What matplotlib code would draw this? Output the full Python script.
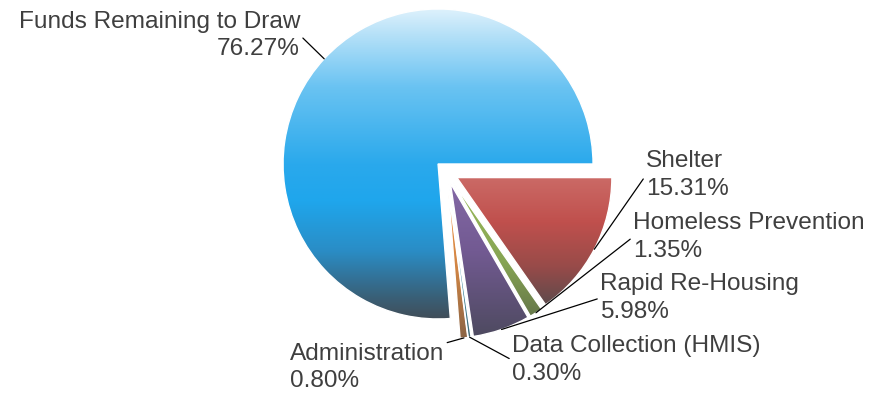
import numpy as np
import matplotlib.pyplot as plt
from matplotlib.colors import LinearSegmentedColormap, to_rgb

# === 1. Grant draw-down breakdown (percent of total award) ===
categories = ['Funds Remaining to Draw', 'Administration', 'Data Collection (HMIS)',
              'Rapid Re-Housing', 'Homeless Prevention', 'Shelter']
percentages = [76.27, 0.80, 0.30, 5.98, 1.35, 15.31]

# === 2. Colours: stops of each slice's vertical gradient (top -> bottom) ===
slice_gradients = [
    [(0.0, '#ddf1fc'), (0.08, '#b6e1f8'), (0.25, '#6ac3f2'), (0.5, '#2aa9ec'),
     (0.62, '#1fa6ec'), (0.78, '#2a8dc6'), (0.93, '#396078'), (1.0, '#414e59')],
    [(0.0, '#f79646'), (0.55, '#d08544'), (1.0, '#8a6444')],
    [(0.0, '#4bacc6'), (0.55, '#4596ac'), (1.0, '#3e6874')],
    [(0.0, '#8468a6'), (0.45, '#725a92'), (1.0, '#4e4a60')],
    [(0.0, '#9bbb59'), (0.6, '#86a453'), (1.0, '#66784a')],
    [(0.0, '#cb6a66'), (0.35, '#c0504d'), (0.7, '#984b49'), (1.0, '#5e4a4c')],
]
explode = [0, 0.075, 0.075, 0.075, 0.075, 0.075]
group_shift = (0.055, -0.053)   # the drawn-down slices are pulled out together

# label text anchors (data units, pie radius = 1)
label_xy = [(-0.89, 0.83), (-0.955, -1.316), (0.477, -1.265),
            (1.045, -0.865), (1.258, -0.471), (1.342, -0.071)]
label_ha = ['right', 'left', 'left', 'left', 'left', 'left']
label_relpos = [(1, 0.5), (1, 1), (0, 0.5), (0, 0.5), (0, 0.5), (0, 0.5)]

# === 3. Figure ===
fig = plt.figure(figsize=(8.84, 3.96), dpi=100)
ax = fig.add_axes([0, 0, 1, 1])

wedges, _ = ax.pie(percentages, startangle=0, counterclock=True, explode=explode,
                   radius=1, wedgeprops=dict(linewidth=1.0, edgecolor='white'))

for w in wedges[1:]:
    cx, cy = w.center
    w.set_center((cx + group_shift[0], cy + group_shift[1]))

# gradient fill clipped to each wedge
grad = np.linspace(0, 1, 256).reshape(-1, 1)
for w, stops in zip(wedges, slice_gradients):
    cmap = LinearSegmentedColormap.from_list('g', [(p, to_rgb(c)) for p, c in stops])
    ext = w.get_path().get_extents()
    im = ax.imshow(grad, cmap=cmap, extent=(ext.x0, ext.x1, ext.y0, ext.y1),
                   origin='upper', aspect='auto', interpolation='bilinear', zorder=0.5)
    im.set_clip_path(w)
    w.set_facecolor('none')
    w.set_zorder(1)

# === 4. Labels with leader lines ===
for w, name, pct, xy_t, ha, rel in zip(wedges, categories, percentages,
                                       label_xy, label_ha, label_relpos):
    theta = np.deg2rad((w.theta1 + w.theta2) / 2)
    cx, cy = w.center
    edge = (cx + w.r * np.cos(theta), cy + w.r * np.sin(theta))
    ax.annotate(f'{name}\n{pct:.2f}%', xy=edge, xytext=xy_t,
                ha=ha, va='center', multialignment=ha,
                fontsize=17.6, family='Liberation Sans', color='#3f3f3f',
                linespacing=1.3,
                arrowprops=dict(arrowstyle='-', color='black', lw=0.9,
                                shrinkA=0, shrinkB=0, relpos=rel))

ax.set_xlim(-2.826, 2.877)
ax.set_ylim(-1.497, 1.058)
ax.set_aspect('equal')
ax.axis('off')

plt.savefig('out.png', dpi=100)
